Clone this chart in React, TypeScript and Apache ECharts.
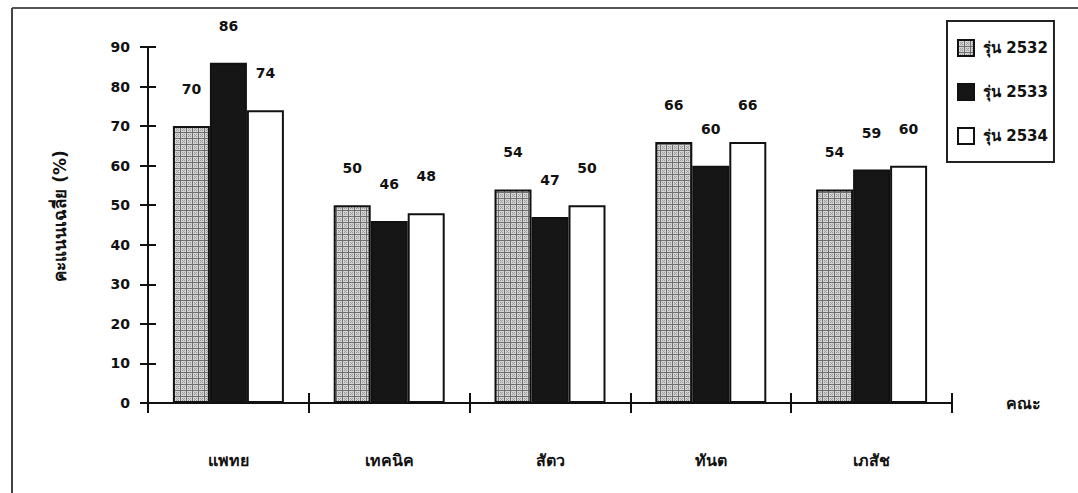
import React, { useEffect, useRef } from "react";
import * as echarts from "echarts";

const categories = ["แพทย", "เทคนิค", "สัตว", "ทันต", "เภสัช"];
const seriesNames = ["รุ่น 2532", "รุ่น 2533", "รุ่น 2534"];
const values2532 = [70, 50, 54, 66, 54];
const values2533 = [86, 46, 47, 60, 59];
const values2534 = [74, 48, 50, 66, 60];
const yTicks = { min: 0, max: 90, interval: 10 };
const yAxisTitle = "คะแนนเฉลี่ย (%)";
const xAxisTitle = "คณะ";

function makePattern(): HTMLCanvasElement {
  const c = document.createElement("canvas");
  c.width = 6;
  c.height = 6;
  const g = c.getContext("2d")!;
  g.fillStyle = "#d4d4d4";
  g.fillRect(0, 0, 6, 6);
  g.fillStyle = "#6e6e6e";
  g.fillRect(0, 0, 6, 1);
  g.fillRect(0, 0, 1, 6);
  g.fillStyle = "#9a9a9a";
  g.fillRect(2, 2, 1, 1);
  g.fillRect(4, 4, 1, 1);
  g.fillRect(4, 2, 1, 1);
  g.fillRect(2, 4, 1, 1);
  g.fillRect(3, 3, 1, 1);
  return c;
}

export default function App() {
  const ref = useRef<HTMLDivElement>(null);
  useEffect(() => {
    if (!ref.current) return;
    const chart = echarts.init(ref.current, undefined, { renderer: "svg" });
    const font = "'DejaVu Sans', 'Noto Sans', sans-serif";
    const pattern = { image: makePattern(), repeat: "repeat" as const };
    const labelStyle = {
      show: true,
      position: "top" as const,
      distance: 30,
      color: "#111",
      fontWeight: "bold" as const,
      fontSize: 14,
      fontFamily: font,
    };
    const colors = [pattern, "#161616", "#ffffff"];
    const data = [values2532, values2533, values2534];
    chart.setOption({
      animation: false,
      backgroundColor: "#ffffff",
      textStyle: { fontFamily: font },
      grid: { left: 148, right: 126, top: 47, bottom: 90 },
      legend: {
        orient: "vertical",
        left: 947,
        top: 21,
        padding: [18, 6, 17, 10],
        itemGap: 26,
        itemWidth: 16,
        itemHeight: 16,
        icon: "rect",
        borderColor: "#222",
        borderWidth: 2,
        textStyle: {
          fontWeight: "bold",
          fontSize: 15,
          color: "#111",
          fontFamily: font,
          padding: [0, 0, 0, 4],
        },
        data: seriesNames,
      },
      xAxis: [
        {
          type: "category",
          data: categories,
          position: "bottom",
          axisLine: { lineStyle: { color: "#111", width: 2 } },
          axisTick: { show: true, length: 10, lineStyle: { color: "#111", width: 2 } },
          axisLabel: { margin: 49, fontWeight: "bold", fontSize: 16, color: "#111", fontFamily: font },
          name: xAxisTitle,
          nameLocation: "end",
          nameGap: 54,
          nameTextStyle: { fontWeight: "bold", fontSize: 16, color: "#111", padding: [16, 0, 0, 0] },
        },
        {
          type: "category",
          data: categories,
          position: "bottom",
          axisLine: { show: false },
          axisTick: { show: true, inside: true, length: 10, lineStyle: { color: "#111", width: 2 } },
          axisLabel: { show: false },
        },
      ],
      yAxis: [
        {
          type: "value",
          min: yTicks.min,
          max: yTicks.max,
          interval: yTicks.interval,
          position: "left",
          splitLine: { show: false },
          axisLine: { show: true, lineStyle: { color: "#111", width: 2 } },
          axisTick: { show: true, length: 8, lineStyle: { color: "#111", width: 2 } },
          axisLabel: { margin: 18, fontWeight: "bold", fontSize: 14, color: "#111", fontFamily: font },
          name: yAxisTitle,
          nameLocation: "middle",
          nameGap: 80,
          nameRotate: 90,
          nameTextStyle: {
            fontWeight: "bold",
            fontSize: 17,
            color: "#111",
            padding: [0, 0, 0, 18],
          },
        },
        {
          type: "value",
          min: yTicks.min,
          max: yTicks.max,
          interval: yTicks.interval,
          position: "left",
          splitLine: { show: false },
          axisLine: { show: false },
          axisTick: { show: true, inside: true, length: 8, lineStyle: { color: "#111", width: 2 } },
          axisLabel: { show: false },
        },
      ],
      series: seriesNames.map((name, i) => ({
        name,
        type: "bar",
        xAxisIndex: 0,
        yAxisIndex: 0,
        barWidth: 37,
        barGap: "0%",
        data: data[i],
        itemStyle: { color: colors[i], borderColor: "#111", borderWidth: 2 },
        label: labelStyle,
      })),
      graphic: [
        { type: "line", shape: { x1: 12, y1: 8, x2: 1078, y2: 8 }, style: { stroke: "#555", lineWidth: 2 } },
        { type: "line", shape: { x1: 12, y1: 8, x2: 12, y2: 493 }, style: { stroke: "#444", lineWidth: 2 } },
      ],
    });
    return () => chart.dispose();
  }, []);
  return (
    <div
      ref={ref}
      style={{ position: "fixed", left: 0, top: 0, width: 1078, height: 493 }}
    />
  );
}
